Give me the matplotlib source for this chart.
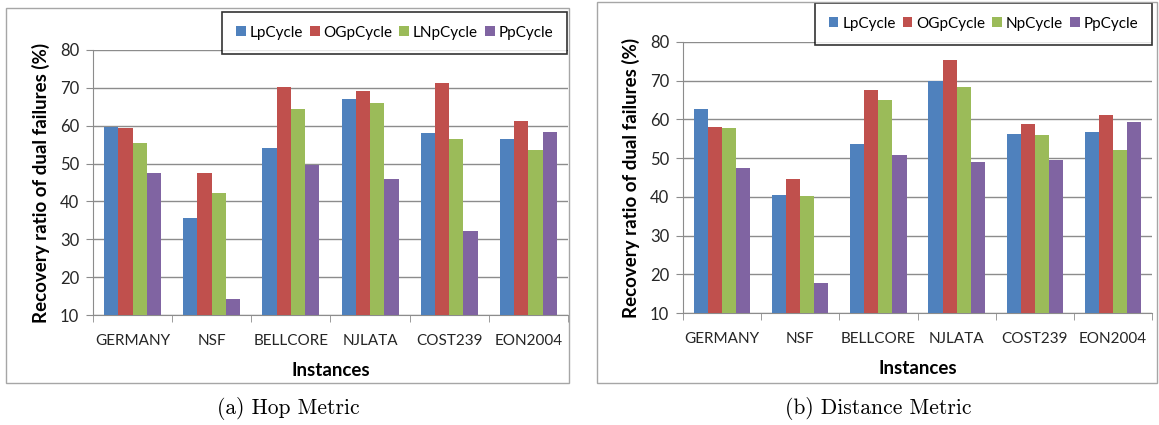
import matplotlib.pyplot as plt
import matplotlib.patches as patches
import numpy as np

plt.rcParams['font.family'] = ['Lato', 'DejaVu Sans']

instances = ['GERMANY', 'NSF', 'BELLCORE', 'NJLATA', 'COST239', 'EON2004']

# (a) Hop metric
hop_names = ['LpCycle', 'OGpCycle', 'LNpCycle', 'PpCycle']
hop_lp = [59.7, 35.5, 54.1, 67.1, 58.0, 56.6]
hop_og = [59.4, 47.6, 70.1, 69.2, 71.3, 61.2]
hop_ln = [55.5, 42.2, 64.4, 65.9, 56.4, 53.5]
hop_pp = [47.6, 14.2, 49.5, 45.8, 32.2, 58.4]

# (b) Distance metric
dist_names = ['LpCycle', 'OGpCycle', 'NpCycle', 'PpCycle']
dist_lp = [62.8, 40.6, 53.7, 69.9, 56.3, 56.8]
dist_og = [58.0, 44.7, 67.7, 75.3, 58.7, 61.2]
dist_n = [57.9, 40.2, 64.9, 68.4, 56.1, 52.2]
dist_pp = [47.4, 17.8, 50.9, 49.1, 49.5, 59.3]

colors = ['#4F81BD', '#C0504D', '#9BBB59', '#8064A2']
grid_col = '#8C8C8C'

W, H = 1159, 425
fig = plt.figure(figsize=(W / 100, H / 100), dpi=100)


def px(x0, y0, x1, y1):
    # pixel box (top-left origin) -> figure fraction rect
    return [x0 / W, 1 - y1 / H, (x1 - x0) / W, (y1 - y0) / H]


def draw_panel(rect, series, names, legend_box, xlabel_y):
    ax = fig.add_axes(rect)
    x = np.arange(len(instances))
    bw = 0.18
    for k, (vals, name) in enumerate(zip(series, names)):
        ax.bar(x + (k - 1.5) * bw, np.array(vals) - 10, bw, bottom=10,
               color=colors[k], label=name, edgecolor='none', zorder=3)
    ax.set_xlim(-0.5, len(instances) - 0.5)
    ax.set_ylim(10, 80)
    ax.set_yticks(range(10, 81, 10))
    ax.grid(axis='y', color=grid_col, linewidth=1, zorder=0)
    for s in ['top', 'right']:
        ax.spines[s].set_visible(False)
    for s in ['left', 'bottom']:
        ax.spines[s].set_color(grid_col)
    ax.set_xticks(x)
    ax.set_xticklabels(instances, fontsize=11, color='#262626')
    ax.set_xticks(np.arange(-0.5, len(instances)), minor=True)
    ax.tick_params(axis='x', which='major', length=0, pad=14)
    ax.tick_params(axis='x', which='minor', length=5, color=grid_col)
    ax.tick_params(axis='y', length=5, color=grid_col, labelsize=12,
                   labelcolor='#262626', pad=5)
    ax.set_ylabel('Recovery ratio of dual failures (%)', fontsize=13.5,
                  fontweight='bold', labelpad=7)
    fig.text((rect[0] + rect[2] / 2), 1 - xlabel_y / H, 'Instances',
             fontsize=13.5, fontweight='bold', ha='center', va='center')
    leg = ax.legend(loc='upper right', ncol=4, fontsize=11,
                    bbox_to_anchor=legend_box, bbox_transform=fig.transFigure,
                    frameon=True, fancybox=False, handlelength=0.65,
                    handleheight=0.65, handletextpad=0.25, columnspacing=0.45,
                    borderpad=0.9, borderaxespad=0)
    leg.get_frame().set_edgecolor('black')
    leg.get_frame().set_linewidth(1.2)
    return ax


# outer frames
fig.patches.append(patches.Rectangle((6 / W, 1 - 383 / H), 563 / W, 375 / H,
                                     transform=fig.transFigure, fill=False,
                                     edgecolor='#A6A6A6', linewidth=1))
fig.patches.append(patches.Rectangle((597 / W, 1 - 383 / H), 560 / W, 381 / H,
                                     transform=fig.transFigure, fill=False,
                                     edgecolor='#A6A6A6', linewidth=1))

draw_panel(px(93, 50, 568, 315), [hop_lp, hop_og, hop_ln, hop_pp], hop_names,
           (567 / W, 1 - 12 / H), 370)
draw_panel(px(683, 42, 1152, 313), [dist_lp, dist_og, dist_n, dist_pp],
           dist_names, (1152 / W, 1 - 3 / H), 368)

fig.text(288 / W, 1 - 408 / H, '(a) Hop Metric', fontsize=15.5,
         family=['cmr10', 'DejaVu Serif'], ha='center', va='center')
fig.text(878 / W, 1 - 408 / H, '(b) Distance Metric', fontsize=15.5,
         family=['cmr10', 'DejaVu Serif'], ha='center', va='center')

fig.savefig('out.png', dpi=100)
